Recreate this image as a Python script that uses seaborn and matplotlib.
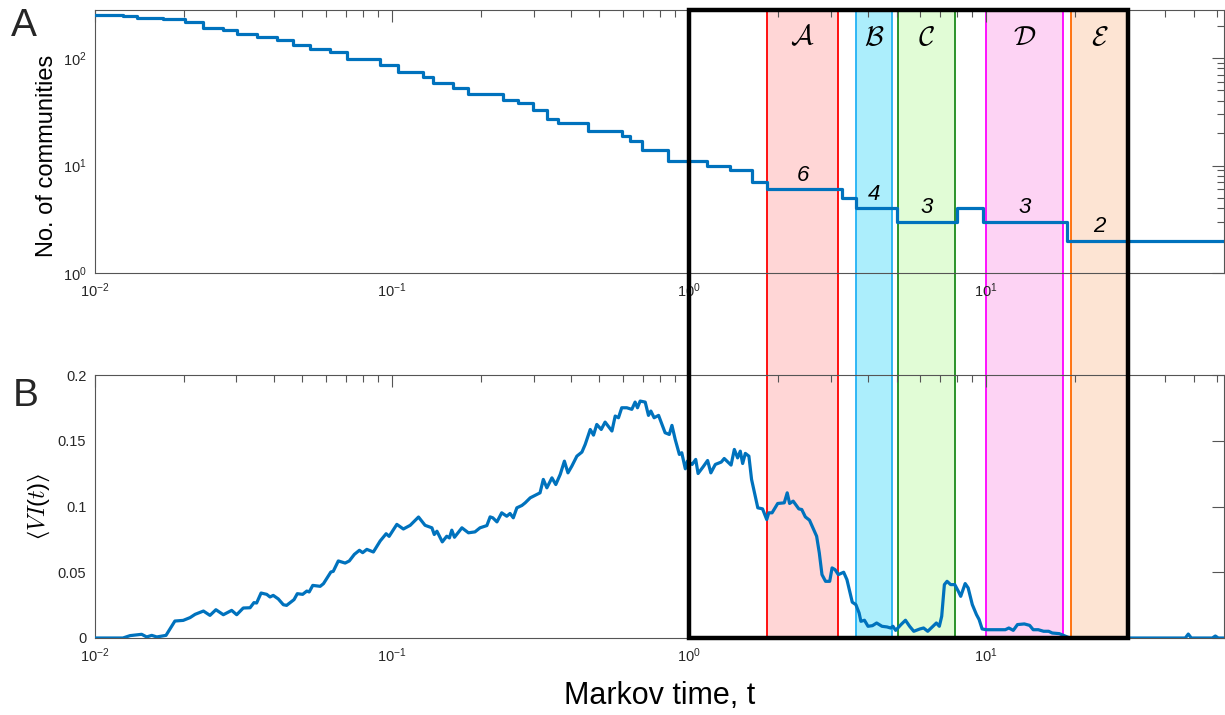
import numpy as np
import pandas as pd
import matplotlib
matplotlib.use("Agg")
import matplotlib.pyplot as plt
import seaborn as sns
from matplotlib import ticker, transforms
from matplotlib.patches import Rectangle

# ---------------- data ----------------
# Panel A: number of communities (step function), Markov time given as log10(t)
comm_log10_t = [-2.000, -1.905, -1.859, -1.770, -1.696, -1.635, -1.568, -1.521, -1.454, -1.386,
                -1.332, -1.275, -1.208, -1.150, -1.039, -0.979, -0.894, -0.861, -0.794, -0.743,
                -0.625, -0.575, -0.524, -0.477, -0.440, -0.339, -0.224, -0.197, -0.157, -0.069,
                0.062, 0.139, 0.213, 0.264, 0.517, 0.564, 0.702, 0.904, 0.991, 1.274, 1.801]
comm_count = [254, 245, 236, 229, 216, 190, 181, 169, 157, 146,
              133, 122, 114, 99, 86, 74, 67, 59, 53, 46,
              41, 38, 33, 27, 25, 21, 19, 17, 14, 11,
              10, 9, 7, 6, 5, 4, 3, 4, 3, 2, 2]

# Panel B: <VI(t)>, Markov time given as log10(t)
vi_log10_t = [-2.000, -1.905, -1.881, -1.842, -1.825, -1.808, -1.791, -1.760, -1.730, -1.702,
              -1.679, -1.662, -1.634, -1.612, -1.592, -1.567, -1.539, -1.522, -1.500, -1.477,
              -1.464, -1.455, -1.440, -1.421, -1.410, -1.399, -1.382, -1.365, -1.354, -1.329,
              -1.318, -1.300, -1.286, -1.278, -1.266, -1.241, -1.230, -1.205, -1.197, -1.180,
              -1.157, -1.143, -1.126, -1.109, -1.098, -1.084, -1.062, -1.039, -1.019, -1.009,
              -0.983, -0.961, -0.938, -0.910, -0.888, -0.865, -0.857, -0.848, -0.830, -0.815,
              -0.806, -0.798, -0.789, -0.764, -0.742, -0.720, -0.703, -0.680, -0.669, -0.660,
              -0.646, -0.630, -0.613, -0.602, -0.591, -0.579, -0.562, -0.551, -0.534, -0.512,
              -0.501, -0.490, -0.478, -0.461, -0.448, -0.433, -0.419, -0.407, -0.394, -0.377,
              -0.360, -0.349, -0.332, -0.321, -0.310, -0.295, -0.282, -0.259, -0.248, -0.237,
              -0.226, -0.209, -0.192, -0.181, -0.173, -0.164, -0.147, -0.136, -0.128, -0.117,
              -0.102, -0.080, -0.066, -0.057, -0.046, -0.032, -0.024, -0.012, -0.005, 0.011,
              0.023, 0.031, 0.048, 0.063, 0.074, 0.089, 0.109, 0.119, 0.142, 0.153,
              0.164, 0.173, 0.181, 0.190, 0.202, 0.211, 0.232, 0.248, 0.262, 0.269,
              0.280, 0.299, 0.321, 0.331, 0.339, 0.351, 0.370, 0.380, 0.392, 0.406,
              0.415, 0.430, 0.439, 0.448, 0.460, 0.474, 0.482, 0.492, 0.503, 0.521,
              0.532, 0.550, 0.562, 0.573, 0.579, 0.591, 0.603, 0.618, 0.632, 0.650,
              0.667, 0.679, 0.687, 0.696, 0.714, 0.729, 0.743, 0.757, 0.778, 0.790,
              0.804, 0.819, 0.833, 0.843, 0.851, 0.860, 0.869, 0.881, 0.895, 0.907,
              0.915, 0.930, 0.940, 0.954, 0.968, 0.977, 0.987, 1.001, 1.065, 1.077,
              1.092, 1.106, 1.129, 1.147, 1.159, 1.176, 1.194, 1.211, 1.223, 1.247,
              1.282, 1.671, 1.681, 1.691, 1.762, 1.772, 1.782, 1.801]
vi_mean = [0.0, 0.0, 0.0018, 0.0028, 0.0008, 0.0020, 0.0008, 0.0020, 0.0129, 0.0134,
           0.0155, 0.0180, 0.0205, 0.0172, 0.0215, 0.0177, 0.0210, 0.0177, 0.0228, 0.0230,
           0.0269, 0.0266, 0.0342, 0.0332, 0.0312, 0.0324, 0.0297, 0.0253, 0.0248, 0.0292,
           0.0337, 0.0332, 0.0357, 0.0350, 0.0400, 0.0393, 0.0413, 0.0502, 0.0507, 0.0586,
           0.0570, 0.0586, 0.0636, 0.0667, 0.0649, 0.0674, 0.0654, 0.0738, 0.0793, 0.0773,
           0.0864, 0.0829, 0.0857, 0.0920, 0.0857, 0.0838, 0.0787, 0.0812, 0.0731, 0.0774,
           0.0761, 0.0820, 0.0766, 0.0838, 0.0800, 0.0807, 0.0838, 0.0855, 0.0921, 0.0914,
           0.0883, 0.0952, 0.0926, 0.0947, 0.0914, 0.0990, 0.1008, 0.1028, 0.1066, 0.1091,
           0.1104, 0.1206, 0.1142, 0.1218, 0.1167, 0.1244, 0.1345, 0.1256, 0.1307, 0.1383,
           0.1414, 0.1472, 0.1586, 0.1543, 0.1624, 0.1586, 0.1642, 0.1574, 0.1688, 0.1675,
           0.1751, 0.1751, 0.1739, 0.1794, 0.1751, 0.1802, 0.1794, 0.1693, 0.1726, 0.1675,
           0.1693, 0.1561, 0.1548, 0.1617, 0.1510, 0.1396, 0.1409, 0.1287, 0.1345, 0.1320,
           0.1358, 0.1251, 0.1302, 0.1350, 0.1256, 0.1320, 0.1338, 0.1365, 0.1315, 0.1434,
           0.1370, 0.1421, 0.1327, 0.1404, 0.1383, 0.1206, 0.0990, 0.0982, 0.0901, 0.0952,
           0.0952, 0.1023, 0.1028, 0.1104, 0.1023, 0.1041, 0.0982, 0.0977, 0.0921, 0.0896,
           0.0850, 0.0774, 0.0647, 0.0482, 0.0431, 0.0431, 0.0533, 0.0520, 0.0482, 0.0500,
           0.0444, 0.0272, 0.0254, 0.0190, 0.0127, 0.0135, 0.0089, 0.0094, 0.0114, 0.0089,
           0.0084, 0.0076, 0.0089, 0.0058, 0.0102, 0.0135, 0.0089, 0.0051, 0.0069, 0.0076,
           0.0051, 0.0084, 0.0114, 0.0089, 0.0165, 0.0406, 0.0431, 0.0406, 0.0406, 0.0355,
           0.0317, 0.0414, 0.0381, 0.0254, 0.0178, 0.0140, 0.0069, 0.0063, 0.0063, 0.0076,
           0.0058, 0.0102, 0.0107, 0.0096, 0.0063, 0.0063, 0.0051, 0.0051, 0.0038, 0.0033,
           0.0, 0.0, 0.0030, 0.0, 0.0, 0.0015, 0.0, 0.0]

# Highlighted Markov-time windows
band_names = [r"$\mathcal{A}$", r"$\mathcal{B}$", r"$\mathcal{C}$", r"$\mathcal{D}$", r"$\mathcal{E}$"]
band_lo = [1.83, 3.65, 5.05, 10.0, 19.3]
band_hi = [3.18, 4.84, 7.87, 18.2, 30.1]
band_counts = [6, 4, 3, 3, 2]
band_edge = ["#FF0000", "#22B2F5", "#1B8A1B", "#FF00FF", "#FF6A00"]
band_fill = ["#FFD6D6", "#ACEEFC", "#E1FCD6", "#FDD3F4", "#FDE4D3"]
box_t = [1.0, 30.0]

x_limits = [0.01, 63.1]
count_limits = [1, 280]
vi_limits = [0, 0.2]
vi_ticks = [0, 0.05, 0.1, 0.15, 0.2]

# ---------------- style ----------------
sns.set_theme(style="white")
plt.rcParams.update({
    "mathtext.fontset": "custom",
    "mathtext.rm": "Liberation Sans",
    "mathtext.it": "Liberation Sans:italic",
    "mathtext.bf": "Liberation Sans:bold",
    "mathtext.default": "regular",
    "axes.facecolor": "none",
    "figure.facecolor": "white",
})
plt.rcParams["font.family"] = ["Liberation Sans", "DejaVu Sans"]

LINE_BLUE = "#0072BD"
SPINE = "#555555"
TXT = "#262626"

fig = plt.figure(figsize=(12.25, 7.15), dpi=100)
ax1 = fig.add_axes([0.0773, 0.6182, 0.9216, 0.3678])
ax2 = fig.add_axes([0.0773, 0.1077, 0.9216, 0.3678])

df_comm = pd.DataFrame({"t": 10 ** np.array(comm_log10_t), "n": comm_count})
df_vi = pd.DataFrame({"t": 10 ** np.array(vi_log10_t), "vi": vi_mean})

for ax in (ax1, ax2):
    ax.set_xscale("log")
ax1.set_yscale("log")

sns.lineplot(data=df_comm, x="t", y="n", ax=ax1, color=LINE_BLUE, lw=2.3,
             drawstyle="steps-post", estimator=None, sort=False, zorder=3)
sns.lineplot(data=df_vi, x="t", y="vi", ax=ax2, color=LINE_BLUE, lw=2.3,
             estimator=None, sort=False, zorder=3)

for ax in (ax1, ax2):
    ax.set_xlim(*x_limits)
    ax.xaxis.set_major_locator(ticker.LogLocator(base=10, numticks=10))
    ax.xaxis.set_minor_locator(ticker.LogLocator(base=10, subs=np.arange(2, 10), numticks=100))
    ax.xaxis.set_minor_formatter(ticker.NullFormatter())
    ax.tick_params(which="both", direction="in", top=True, right=True,
                   color=SPINE, width=0.8, labelcolor=TXT, labelsize=10.5)
    ax.tick_params(which="major", length=8.5, pad=6)
    ax.tick_params(which="minor", length=5)
    for s in ax.spines.values():
        s.set_color(SPINE)
        s.set_linewidth(0.8)
        s.set_visible(True)
    ax.set_xlabel("")
    ax.set_ylabel("")

ax1.set_ylim(*count_limits)
ax1.yaxis.set_major_locator(ticker.LogLocator(base=10, numticks=10))
ax1.yaxis.set_minor_locator(ticker.LogLocator(base=10, subs=np.arange(2, 10), numticks=100))
ax1.yaxis.set_minor_formatter(ticker.NullFormatter())

ax2.set_ylim(*vi_limits)
ax2.set_yticks(vi_ticks)
ax2.yaxis.set_major_formatter(ticker.FuncFormatter(lambda v, p: f"{v:g}"))
ax2.yaxis.set_minor_locator(ticker.NullLocator())

# axis labels
ax1.set_ylabel("No. of communities", fontsize=17, va="center", color="black")
ax1.yaxis.set_label_coords(-0.042, 0.445)
ax2.set_ylabel(r"$\langle \mathit{VI}(\mathit{t}) \rangle$", fontsize=17, va="center",
               color="black", math_fontfamily="cm")
ax2.yaxis.set_label_coords(-0.049, 0.5)
ax2.set_xlabel("Markov time, t", fontsize=22, va="center", color="black")
ax2.xaxis.set_label_coords(0.5, -0.219)

# bands spanning both panels (figure-level, behind the axes content)
y_bot = ax2.get_position().y0
y_top = ax1.get_position().y1
trans = transforms.blended_transform_factory(ax2.transData, fig.transFigure)
for lo, hi, fc, ec in zip(band_lo, band_hi, band_fill, band_edge):
    fig.add_artist(Rectangle((lo, y_bot), hi - lo, y_top - y_bot, transform=trans,
                             facecolor=fc, edgecolor=ec, lw=1.3, zorder=-1))

# band labels and community counts
ltrans = transforms.blended_transform_factory(ax1.transData, ax1.transAxes)
for lo, hi, name, cnt in zip(band_lo, band_hi, band_names, band_counts):
    xc = np.sqrt(lo * hi)
    ax1.text(xc, 0.895, name, transform=ltrans, ha="center", va="center",
             fontsize=20, math_fontfamily="cm", color="black")
    ax1.annotate(str(cnt), xy=(xc, cnt), xytext=(0, 10), textcoords="offset points",
                 ha="center", va="center", fontsize=16, fontstyle="italic", color="black")

# thick black box over the selected window
fig.add_artist(Rectangle((box_t[0], y_bot), box_t[1] - box_t[0], y_top - y_bot,
                         transform=trans, fill=False, edgecolor="black", lw=3.2, zorder=5))

# panel letters
fig.text(0.0196, 0.9636, "A", fontsize=28, ha="center", va="center")
fig.text(0.0212, 0.446, "B", fontsize=28, ha="center", va="center")

fig.savefig("out.png", dpi=100)
